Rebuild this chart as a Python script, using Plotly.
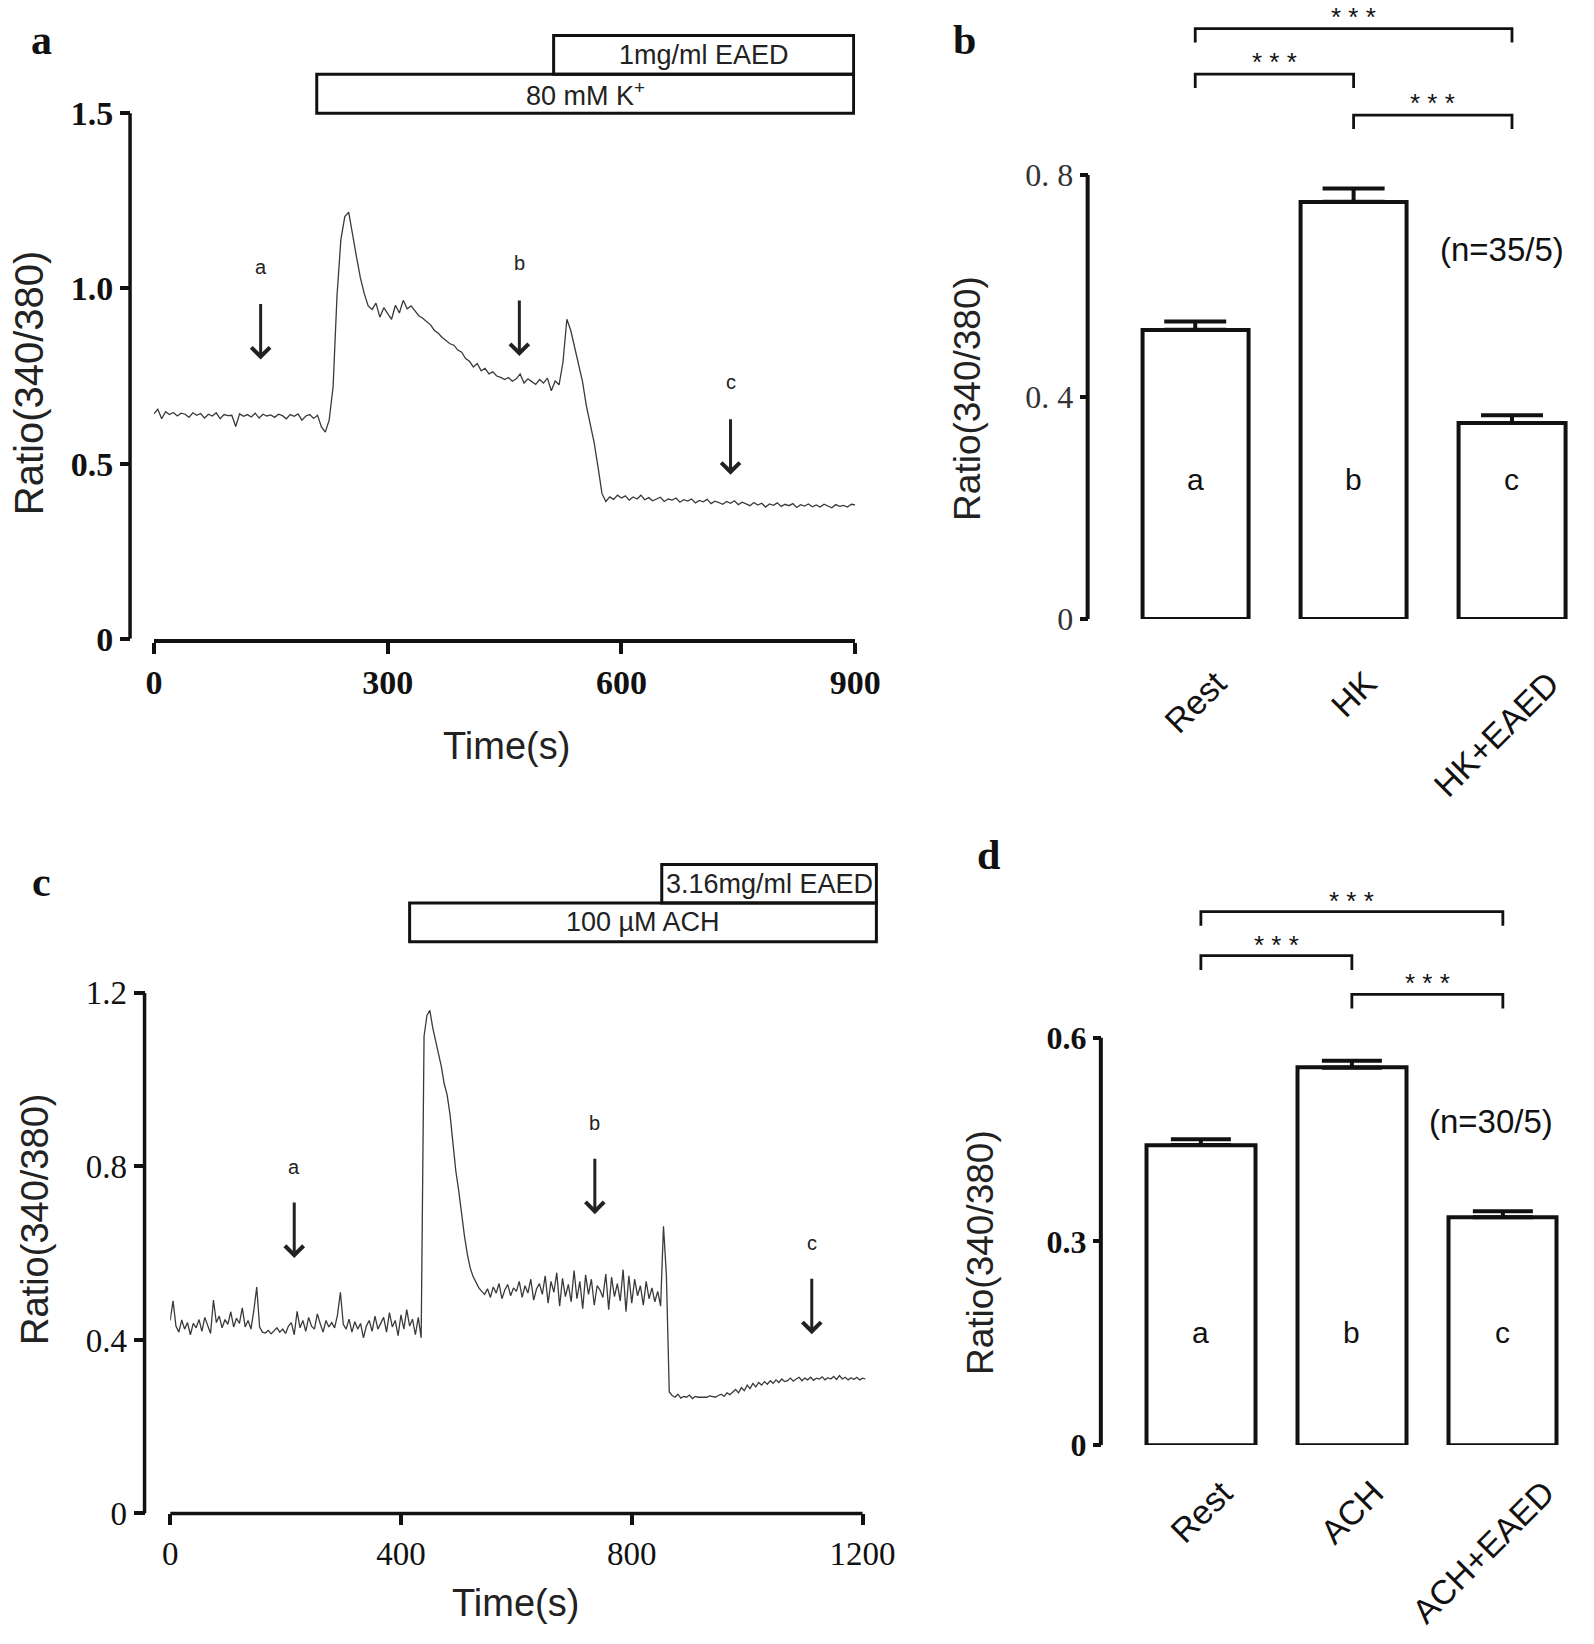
import plotly.graph_objects as go

W, H = 1594, 1644
SERIF = "Liberation Serif"
SANS = "Liberation Sans"
INK = "#111111"

# ======================= DATA =======================
# ---- panel a: HK trace ----
time_a = list(range(0, 901, 5))
ratio_a = [
    0.642, 0.655, 0.628, 0.648, 0.640, 0.646, 0.636, 0.644, 0.641, 0.632,
    0.645, 0.638, 0.643, 0.630, 0.641, 0.636, 0.645, 0.628, 0.640, 0.637,
    0.638, 0.606, 0.642, 0.635, 0.640, 0.633, 0.644, 0.630, 0.641, 0.636,
    0.639, 0.632, 0.641, 0.637, 0.628, 0.640, 0.635, 0.642, 0.624, 0.636,
    0.640, 0.629, 0.638,
    0.605, 0.590, 0.625, 0.720, 0.980, 1.140, 1.205, 1.218,
    1.150, 1.090, 1.030, 0.985, 0.950, 0.940, 0.958, 0.918, 0.945, 0.928,
    0.912, 0.952, 0.930, 0.966, 0.942, 0.950, 0.935, 0.922, 0.915, 0.905,
    0.896, 0.880, 0.872, 0.860, 0.852, 0.842, 0.838, 0.824, 0.818, 0.800,
    0.792, 0.776, 0.786, 0.765, 0.772, 0.756, 0.762, 0.750, 0.746, 0.740,
    0.746, 0.735, 0.742, 0.756, 0.730, 0.742, 0.734, 0.726, 0.740, 0.730,
    0.744, 0.708, 0.736, 0.725, 0.790, 0.912, 0.880, 0.834, 0.790, 0.735,
    0.665, 0.610, 0.560, 0.490, 0.415, 0.392, 0.405, 0.398, 0.410,
    0.402, 0.408, 0.396, 0.405, 0.399, 0.410, 0.397, 0.403, 0.394, 0.400,
    0.404, 0.392, 0.399, 0.396, 0.402, 0.390, 0.397, 0.393, 0.399, 0.388,
    0.395, 0.391, 0.398, 0.386, 0.393, 0.389, 0.384, 0.392, 0.387, 0.394,
    0.383, 0.390, 0.386, 0.380, 0.389, 0.382, 0.387, 0.376, 0.385, 0.381,
    0.388, 0.378, 0.384, 0.380, 0.386, 0.375, 0.383, 0.379, 0.385, 0.377,
    0.382, 0.376, 0.384, 0.379, 0.374, 0.383, 0.378, 0.381, 0.376, 0.384,
    0.382,
]
treat_a_labels = ["80 mM K<sup>+</sup>", "1mg/ml EAED"]
treat_a_start = [209, 513]
treat_a_end = [898, 898]
arrow_a_labels = ["a", "b", "c"]
arrow_a_time = [137, 469, 740]
arrow_a_tip = [0.797, 0.807, 0.468]
yticks_a = [0, 0.5, 1.0, 1.5]
yticktext_a = ["0", "0.5", "1.0", "1.5"]
xticks_a = [0, 300, 600, 900]

# ---- panel b: HK bars ----
groups_b = ["Rest", "HK", "HK+EAED"]
mean_b = [0.521, 0.752, 0.353]
sem_b = [0.015, 0.024, 0.014]
letters_b = ["a", "b", "c"]
sig_pairs_b = [(0, 2), (0, 1), (1, 2)]
sig_level_b = [1.064, 0.982, 0.908]
sig_text = "* * *"
n_text_b = "(n=35/5)"
yticks_b = [0, 0.4, 0.8]
yticktext_b = ["0", "0. 4", "0. 8"]

# ---- panel c: ACH trace ----
time_c = list(range(0, 1206, 5))
ratio_c = [
    0.445, 0.490, 0.432, 0.418, 0.446, 0.425, 0.440, 0.412, 0.438, 0.428,
    0.447, 0.420, 0.452, 0.431, 0.415, 0.492, 0.440, 0.455, 0.428, 0.447,
    0.436, 0.465, 0.430, 0.450, 0.438, 0.474, 0.430, 0.445, 0.425, 0.468,
    0.522, 0.430, 0.418, 0.416, 0.422, 0.414, 0.420, 0.428, 0.418, 0.425,
    0.415, 0.432, 0.440, 0.412, 0.466, 0.428, 0.445, 0.420, 0.452, 0.432,
    0.425, 0.460, 0.438, 0.418, 0.445, 0.430, 0.440, 0.428, 0.458, 0.510,
    0.436, 0.425, 0.448, 0.418, 0.442, 0.425, 0.438, 0.405, 0.432, 0.445,
    0.420, 0.455, 0.425, 0.438, 0.452, 0.418, 0.463, 0.430, 0.445, 0.410,
    0.458, 0.425, 0.470, 0.432, 0.448, 0.412, 0.452,
    0.405, 1.100, 1.148, 1.160, 1.120, 1.090, 1.055, 1.030, 0.990, 0.965,
    0.920, 0.850, 0.790, 0.745, 0.690, 0.640, 0.598, 0.566, 0.546, 0.532,
    0.520, 0.512,
    0.505, 0.518, 0.498, 0.522, 0.508, 0.530, 0.495, 0.515, 0.528, 0.502,
    0.520, 0.512, 0.535, 0.498, 0.525, 0.508, 0.540, 0.492, 0.518, 0.530,
    0.505, 0.548, 0.485, 0.535, 0.510, 0.555, 0.478, 0.542, 0.500, 0.528,
    0.488, 0.560, 0.495, 0.535, 0.472, 0.550, 0.505, 0.540, 0.480, 0.525,
    0.515, 0.498, 0.552, 0.470, 0.545, 0.500, 0.530, 0.490, 0.562, 0.465,
    0.548, 0.485, 0.540, 0.502, 0.525, 0.480, 0.535, 0.495, 0.520, 0.488,
    0.512, 0.478,
    0.662, 0.550, 0.280,
    0.272, 0.268, 0.275, 0.266, 0.270, 0.268, 0.273, 0.265, 0.270, 0.268,
    0.268, 0.268, 0.268, 0.271, 0.269, 0.268, 0.272, 0.275, 0.270, 0.278,
    0.274, 0.280,
    0.286, 0.278, 0.290, 0.283, 0.296, 0.288, 0.300, 0.292, 0.302, 0.296,
    0.304, 0.298, 0.306, 0.300, 0.308, 0.302, 0.310, 0.304, 0.306, 0.312,
    0.305, 0.310, 0.314, 0.306, 0.312, 0.308, 0.314, 0.307, 0.312, 0.310,
    0.315, 0.308, 0.313, 0.310, 0.316, 0.309, 0.318, 0.310, 0.314, 0.308,
    0.313, 0.309, 0.314, 0.308, 0.312, 0.310,
]
treat_c_labels = ["100 µM ACH", "3.16mg/ml EAED"]
treat_c_start = [415, 852]
treat_c_end = [1224, 1224]
arrow_c_labels = ["a", "b", "c"]
arrow_c_time = [215, 736, 1112]
arrow_c_tip = [0.589, 0.690, 0.413]
yticks_c = [0, 0.4, 0.8, 1.2]
yticktext_c = ["0", "0.4", "0.8", "1.2"]
xticks_c = [0, 400, 800, 1200]

# ---- panel d: ACH bars ----
groups_d = ["Rest", "ACH", "ACH+EAED"]
mean_d = [0.442, 0.556, 0.3355]
sem_d = [0.0085, 0.010, 0.009]
letters_d = ["a", "b", "c"]
sig_pairs_d = [(0, 2), (0, 1), (1, 2)]
sig_level_d = [0.786, 0.721, 0.664]
n_text_d = "(n=30/5)"
yticks_d = [0, 0.3, 0.6]
yticktext_d = ["0", "0.3", "0.6"]

assert len(time_a) == len(ratio_a)
assert len(time_c) == len(ratio_c)


# ======================= LAYOUT HELPERS =======================
# pixel placements measured on the reference, with a small outward correction
def TX(p):
    return p + 0.015 * (p - 280)


def TY(p):
    return p + 0.009 * (p + 60)


def py(p):
    return 1 - p / H


def pxf(p):
    return p / W


def yaxis_cfg(zero_px, tick_px, tick_val, top_px, pos_px, tickvals, ticktext,
              font, tlen, twidth):
    rng_top = tick_val * (zero_px - top_px) / (zero_px - tick_px)
    return dict(domain=[py(zero_px), py(top_px)], range=[0, rng_top],
                anchor="free", position=pxf(pos_px), showline=False,
                ticks="outside", tickvals=tickvals, ticktext=ticktext,
                ticklen=tlen, tickwidth=twidth, tickcolor=INK, tickfont=font,
                showgrid=False, zeroline=False, fixedrange=True)


def cat_xaxis_cfg(left_px, right_px, c0_px, step_px, anchor):
    return dict(domain=[pxf(left_px), pxf(right_px)],
                range=[(left_px - c0_px) / step_px, (right_px - c0_px) / step_px],
                showline=False, showticklabels=False, ticks="", showgrid=False,
                zeroline=False, anchor=anchor, fixedrange=True)


fig = go.Figure()
shapes = []
ann = []

bold_tick = dict(family=SERIF, size=34, color=INK, weight="bold")
reg_tick = dict(family=SERIF, size=33, color=INK)
ARROW = dict(showarrow=True, arrowhead=4, arrowsize=1.2, arrowwidth=3,
             arrowcolor="#222", ax=0, ay=-57, text="", font=dict(size=2))

# ======================= PANEL A =======================
A_X0, A_X1 = TX(150), TX(856)
A_Y0, A_Y1 = TY(640), TY(113)
A_AX = TX(126)
fig.add_trace(go.Scatter(x=time_a, y=ratio_a, mode="lines", xaxis="x", yaxis="y",
                         line=dict(color="#3a3a3a", width=1.3), showlegend=False,
                         hoverinfo="skip"))
ya = yaxis_cfg(A_Y0, A_Y1, 1.5, 0, A_AX, yticks_a, yticktext_a, bold_tick, 10, 3.5)
xa = dict(domain=[pxf(A_X0), pxf(A_X1)], range=[0, 900], anchor="y", showline=True,
          linewidth=3.5, linecolor=INK, ticks="outside", tickvals=xticks_a,
          ticklen=11, tickwidth=3.5, tickcolor=INK, tickfont=bold_tick,
          showgrid=False, zeroline=False, fixedrange=True)
shapes.append(dict(type="line", xref="paper", yref="y", x0=pxf(A_AX), x1=pxf(A_AX),
                   y0=0, y1=max(yticks_a), line=dict(color=INK, width=3.5)))
tier_a0, tier_ah = 1.5, 0.111
for k, (lab, s, e) in enumerate(zip(treat_a_labels, treat_a_start, treat_a_end)):
    y0 = tier_a0 + k * tier_ah
    shapes.append(dict(type="rect", xref="x", yref="y", x0=s, x1=e, y0=y0,
                       y1=y0 + tier_ah, line=dict(color=INK, width=3),
                       fillcolor="rgba(0,0,0,0)"))
    ann.append(dict(xref="x", yref="y", x=(s + e) / 2, y=y0 + tier_ah / 2, text=lab,
                    showarrow=False, font=dict(family=SANS, size=27, color="#222")))
for t, tip, lab in zip(arrow_a_time, arrow_a_tip, arrow_a_labels):
    ann.append(dict(xref="x", yref="y", x=t, y=tip, **ARROW))
    ann.append(dict(xref="x", yref="y", x=t, y=tip, yshift=93, text=lab,
                    showarrow=False, font=dict(family=SANS, size=20, color="#222")))

# ======================= PANEL C =======================
C_X0, C_X1200 = TX(166.4), TX(863.4)
kc = (C_X1200 - C_X0) / 1200.0
C_Y0, C_Y1 = TY(1517), TY(995)
C_AX = TX(140.6)
fig.add_trace(go.Scatter(x=time_c, y=ratio_c, mode="lines", xaxis="x3", yaxis="y3",
                         line=dict(color="#3a3a3a", width=1.3), showlegend=False,
                         hoverinfo="skip"))
yc = yaxis_cfg(C_Y0, C_Y1, 1.2, TY(850), C_AX, yticks_c, yticktext_c, reg_tick, 11, 3.5)
xc = dict(domain=[pxf(C_X0), pxf(C_X0 + 1230 * kc)], range=[0, 1230], anchor="y3",
          showline=False, ticks="outside", tickvals=xticks_c, ticklen=11,
          tickwidth=3.5, tickcolor=INK, tickfont=reg_tick, showgrid=False,
          zeroline=False, fixedrange=True)
shapes.append(dict(type="line", xref="paper", yref="y3", x0=pxf(C_AX), x1=pxf(C_AX),
                   y0=0, y1=max(yticks_c), line=dict(color=INK, width=3.5)))
shapes.append(dict(type="line", xref="x3", yref="paper", x0=min(xticks_c),
                   x1=max(xticks_c), y0=py(C_Y0), y1=py(C_Y0),
                   line=dict(color=INK, width=3.5)))
tier_c0, tier_ch = 1.318, 0.089
for k, (lab, s, e) in enumerate(zip(treat_c_labels, treat_c_start, treat_c_end)):
    y0 = tier_c0 + k * tier_ch
    shapes.append(dict(type="rect", xref="x3", yref="y3", x0=s, x1=e, y0=y0,
                       y1=y0 + tier_ch, line=dict(color=INK, width=3),
                       fillcolor="rgba(0,0,0,0)"))
    ann.append(dict(xref="x3", yref="y3", x=(s + e) / 2, y=y0 + tier_ch / 2, text=lab,
                    showarrow=False, font=dict(family=SANS, size=27, color="#222")))
for t, tip, lab in zip(arrow_c_time, arrow_c_tip, arrow_c_labels):
    ann.append(dict(xref="x3", yref="y3", x=t, y=tip, **ARROW))
    ann.append(dict(xref="x3", yref="y3", x=t, y=tip, yshift=91, text=lab,
                    showarrow=False, font=dict(family=SANS, size=20, color="#222")))


# ======================= BAR PANELS =======================
def bar_panel(xname, yname, groups, means, sems, letters, pairs, levels, drop,
              letter_y, n_text, n_x, n_y, bar_w, cap_w, label_top_px, stars_dy,
              label_shift):
    xs = list(range(len(groups)))
    fig.add_trace(go.Bar(x=xs, y=means, width=bar_w, xaxis=xname, yaxis=yname,
                         marker=dict(color="white", line=dict(color=INK, width=4)),
                         error_y=dict(type="data", array=sems,
                                      arrayminus=[0] * len(sems), symmetric=False,
                                      thickness=4, width=cap_w, color=INK),
                         showlegend=False, hoverinfo="skip"))
    for (i, j), lv in zip(pairs, levels):
        fig.add_trace(go.Scatter(x=[i, i, j, j], y=[lv - drop, lv, lv, lv - drop],
                                 mode="lines", xaxis=xname, yaxis=yname,
                                 line=dict(color=INK, width=2.8), showlegend=False,
                                 hoverinfo="skip"))
        ann.append(dict(xref=xname, yref=yname, x=(i + j) / 2, y=lv, text=sig_text,
                        yanchor="middle", yshift=stars_dy, showarrow=False,
                        font=dict(family=SANS, size=26, color=INK)))
    for x, lab in zip(xs, letters):
        ann.append(dict(xref=xname, yref=yname, x=x, y=letter_y, text=lab,
                        showarrow=False, font=dict(family=SANS, size=30, color=INK)))
    for x, g, sh in zip(xs, groups, label_shift):
        ann.append(dict(xref=xname, yref="paper", x=x, y=py(label_top_px), text=g,
                        textangle=-45, xanchor="center", yanchor="top", xshift=sh,
                        showarrow=False, font=dict(family=SANS, size=34, color=INK)))
    ann.append(dict(xref=xname, yref=yname, x=n_x, y=n_y, text=n_text,
                    xanchor="right", showarrow=False,
                    font=dict(family=SANS, size=33, color=INK)))


# panel b  (last bar kept fully inside the figure)
B_Y0, B_Y1 = TY(620), TY(175)
B_AX = TX(1090)
B_C0 = TX(1198.3)
B_BAR_PX = 108.5
B_STEP = (W - 4 - B_BAR_PX / 2 - B_C0) / 2
yb = yaxis_cfg(B_Y0, B_Y1, 0.8, 0, B_AX, yticks_b, yticktext_b,
               dict(family=SERIF, size=32, color="#333"), 8, 4)
xb = cat_xaxis_cfg(TX(1100), W, B_C0, B_STEP, "y2")
shapes.append(dict(type="line", xref="paper", yref="y2", x0=pxf(B_AX), x1=pxf(B_AX),
                   y0=0, y1=max(yticks_b), line=dict(color=INK, width=4)))
bar_panel("x2", "y2", groups_b, mean_b, sem_b, letters_b, sig_pairs_b, sig_level_b,
          0.025, 0.252, n_text_b, (W - 3 - B_C0) / B_STEP, 0.665,
          B_BAR_PX / B_STEP, 31, TY(662), 12, [0, 0, -16])

# panel d
D_Y0, D_Y1 = TY(1448.3), TY(1040)
D_AX = TX(1103.3)
D_C0, D_STEP = TX(1204), 152 * 1.015
yd = yaxis_cfg(D_Y0, D_Y1, 0.6, TY(870), D_AX, yticks_d, yticktext_d,
               dict(family=SERIF, size=32, color=INK, weight="bold"), 8, 4)
xd = cat_xaxis_cfg(TX(1110), W, D_C0, D_STEP, "y4")
shapes.append(dict(type="line", xref="paper", yref="y4", x0=pxf(D_AX), x1=pxf(D_AX),
                   y0=0, y1=max(yticks_d), line=dict(color=INK, width=4)))
bar_panel("x4", "y4", groups_d, mean_d, sem_d, letters_d, sig_pairs_d, sig_level_d,
          0.021, 0.165, n_text_d, (W - 14 - D_C0) / D_STEP, 0.4766,
          109 / 152, 30, TY(1474), 11, [0, 0, -20])

# ======================= TITLES & PANEL LETTERS =======================
for (xp, yp, fs) in [(24, 383, 40), (969, 399, 37), (31, 1222, 38), (981.5, 1255, 37)]:
    ann.append(dict(xref="paper", yref="paper", x=pxf(TX(xp)), y=py(TY(yp)),
                    xanchor="center", yanchor="middle",
                    text="Ratio(340/380)", textangle=-90, showarrow=False,
                    font=dict(family=SANS, size=fs, color="#222")))
for (xp, yp) in [(505, 747), (514, 1613)]:
    ann.append(dict(xref="paper", yref="paper", x=pxf(TX(xp)), y=py(min(TY(yp), 1622)),
                    text="Time(s)", xanchor="center", yanchor="middle",
                    showarrow=False, font=dict(family=SANS, size=38, color="#222")))
for lab, (xp, yp) in zip(["a", "b", "c", "d"],
                         [(37, 40), (966, 40), (37, 884), (990, 857)]):
    ann.append(dict(xref="paper", yref="paper", x=pxf(TX(xp)), y=py(TY(yp)), text=lab,
                    xanchor="center", yanchor="middle", showarrow=False,
                    font=dict(family=SERIF, size=42, color=INK, weight="bold")))

fig.update_layout(
    width=W, height=H, autosize=False,
    margin=dict(l=0, r=0, t=0, b=0),
    paper_bgcolor="white", plot_bgcolor="rgba(0,0,0,0)",
    xaxis=xa, yaxis=ya, xaxis2=xb, yaxis2=yb, xaxis3=xc, yaxis3=yc,
    xaxis4=xd, yaxis4=yd,
    shapes=shapes, annotations=ann, showlegend=False, bargap=0,
)

fig.write_html(
    "out.html",
    config={"displayModeBar": False},
    post_script="document.documentElement.style.margin='0';"
                "document.body.style.margin='0';"
                "document.body.style.overflow='hidden';",
)
